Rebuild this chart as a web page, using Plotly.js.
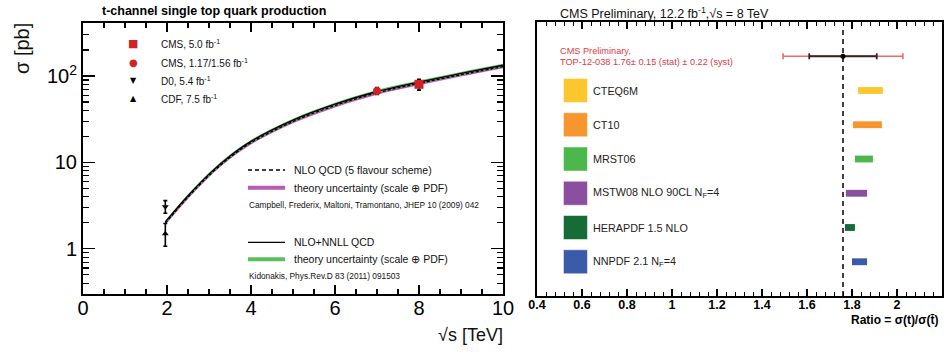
<!DOCTYPE html>
<html><head><meta charset="utf-8">
<script src="https://cdn.plot.ly/plotly-3.0.1.min.js"></script>
<style>html,body{margin:0;padding:0;background:#fff}#c{width:950px;height:353px}</style>
</head><body><div id="c"></div>
<script>
// ---- Left panel: theory curves (sqrt(s) in TeV, sigma in pb) ----
const sqrtS  = [1.96, 2.5, 3, 3.5, 4, 5, 6, 7, 8, 9, 10];
const nnll   = [2.05, 4.11, 7.31, 11.86, 17.5, 30.8, 47.1, 66.1, 85.0, 107.0, 133.0];
const nnllLo = [1.97, 3.95, 7.02, 11.39, 16.8, 29.6, 45.2, 63.5, 81.6, 102.7, 127.7];
const nnllHi = [2.13, 4.27, 7.60, 12.33, 18.2, 32.0, 49.0, 68.7, 88.4, 111.3, 138.3];
const nlo    = [1.98, 3.97, 7.05, 11.44, 16.9, 29.7, 45.5, 63.8, 82.0, 103.3, 128.3];
const nloLo  = [1.89, 3.78, 6.73, 10.91, 16.1, 28.3, 43.3, 60.8, 78.2, 98.4, 122.4];
const nloHi  = [2.05, 4.11, 7.31, 11.86, 17.5, 30.8, 47.1, 66.1, 85.0, 107.0, 133.0];

// ---- Left panel: measurements ----
const measNames  = ["CMS, 5.0 fb<sup>-1</sup>", "CMS, 1.17/1.56 fb<sup>-1</sup>", "D0, 5.4 fb<sup>-1</sup>", "CDF, 7.5 fb<sup>-1</sup>"];
const measX      = [8.0, 7.0, 1.96, 1.96];
const measY      = [80.1, 67.2, 3.07, 1.49];
const measErrUp  = [11.6, 6.1, 0.54, 0.47];
const measErrDn  = [11.6, 6.1, 0.49, 0.42];

// ---- Right panel: ratio sigma(t)/sigma(tbar) ----
const ratioMeas = 1.76, ratioStat = 0.15, ratioSyst = 0.22;
const pdfNames = ["CTEQ6M", "CT10", "MRST06", "MSTW08 NLO 90CL N<sub>F</sub>=4", "HERAPDF 1.5 NLO", "NNPDF 2.1 N<sub>F</sub>=4"];
const pdfLo    = [1.827, 1.804, 1.813, 1.773, 1.769, 1.800];
const pdfHi    = [1.937, 1.933, 1.893, 1.867, 1.813, 1.867];
const pdfColors = ["#fcc72c", "#f7952f", "#4cb84c", "#8a4f9f", "#176b37", "#3b5aa8"];

const FONT = "Liberation Sans, Arial, Helvetica, sans-serif";
const px = v => v / 950, py = v => 1 - v / 353;

const traces = [];
// NLO band (magenta)
traces.push({x: sqrtS, y: nloLo, mode: "lines", line: {width: 0, shape: "spline"}, hoverinfo: "skip", xaxis: "x", yaxis: "y"});
traces.push({x: sqrtS, y: nloHi, mode: "lines", line: {width: 0, shape: "spline"}, fill: "tonexty", fillcolor: "#b85cb5", hoverinfo: "skip", xaxis: "x", yaxis: "y"});
// NNLL band (green)
traces.push({x: sqrtS, y: nnllLo, mode: "lines", line: {width: 0, shape: "spline"}, hoverinfo: "skip", xaxis: "x", yaxis: "y"});
traces.push({x: sqrtS, y: nnllHi, mode: "lines", line: {width: 0, shape: "spline"}, fill: "tonexty", fillcolor: "#5cbf5c", hoverinfo: "skip", xaxis: "x", yaxis: "y"});
// central lines
traces.push({x: sqrtS, y: nlo, mode: "lines", line: {color: "#000", width: 1.3, dash: "3px,2px", shape: "spline"}, xaxis: "x", yaxis: "y"});
traces.push({x: sqrtS, y: nnll, mode: "lines", line: {color: "#000", width: 1.3, shape: "spline"}, xaxis: "x", yaxis: "y"});

const symbols = ["square", "circle", "triangle-down", "triangle-up"];
const mColors = ["#d42027", "#d42027", "#000", "#000"];
const mSizes = [9, 8, 6, 6];
for (let i = 0; i < measX.length; i++) {
  traces.push({
    x: [measX[i]], y: [measY[i]], mode: "markers",
    marker: {symbol: symbols[i], color: mColors[i], size: mSizes[i]},
    error_y: {type: "data", symmetric: false, array: [measErrUp[i]], arrayminus: [measErrDn[i]], color: "#000", thickness: 1.6, width: 2},
    xaxis: "x", yaxis: "y", name: measNames[i]
  });
}

// Right panel
const nPdf = pdfNames.length;
const rowY = pdfNames.map((_, i) => nPdf - i);
traces.push({
  type: "bar", orientation: "h", y: rowY, base: pdfLo, x: pdfHi.map((h, i) => h - pdfLo[i]),
  width: 0.2, marker: {color: pdfColors, line: {width: 0}}, xaxis: "x2", yaxis: "y2"
});
// legend squares
traces.push({
  x: rowY.map(() => 0.571), y: rowY, mode: "markers",
  marker: {symbol: "square", size: 24, color: pdfColors, line: {color: "rgba(255,255,255,0.5)", width: 1}},
  xaxis: "x2", yaxis: "y2"
});
// dashed line at measurement
traces.push({x: [ratioMeas, ratioMeas], y: [0, 7.85], mode: "lines", line: {color: "#404040", width: 2, dash: "5px,4px"}, xaxis: "x2", yaxis: "y2"});
const ratioTot = Math.sqrt(ratioStat * ratioStat + ratioSyst * ratioSyst);
traces.push({x: [ratioMeas], y: [nPdf + 1], mode: "markers", marker: {size: 1, color: "#f06a6a"},
  error_x: {type: "data", array: [ratioTot], color: "#f06a6a", thickness: 1.6, width: 3}, xaxis: "x2", yaxis: "y2"});
traces.push({x: [ratioMeas], y: [nPdf + 1], mode: "markers", marker: {size: 5, color: "#000"},
  error_x: {type: "data", array: [ratioStat], color: "#3a2020", thickness: 1.8, width: 3}, xaxis: "x2", yaxis: "y2"});

const ann = [];
const A = (text, x, y, size, opts) => ann.push(Object.assign({text, x: px(x), y: py(y), xref: "paper", yref: "paper", showarrow: false, xanchor: "left", yanchor: "middle", font: {family: FONT, size, color: "#111"}}, opts || {}));
A("t-channel single top quark production", 100, 11, 12.5, {font: {family: FONT, size: 12.5, color: "#000", weight: "bold"}});
A("σ [pb]", 22, 49, 20, {textangle: -90, xanchor: "center"});
A("√s [TeV]", 505, 335, 18, {xanchor: "right"});
// legend (top)
const legY = [43.7, 62.7, 80.7, 98.7];
const legGlyph = ["■", "●", "▼", "▲"];
const legGlyphSize = [11, 10, 8, 8];
for (let i = 0; i < measNames.length; i++) {
  A(legGlyph[i], 133, legY[i], legGlyphSize[i], {xanchor: "center", font: {family: "DejaVu Sans", size: legGlyphSize[i], color: mColors[i]}});
  A(measNames[i], 159, legY[i], 10);
}
// legend (bottom)
A("NLO QCD (5 flavour scheme)", 292, 170, 10.5);
A("theory uncertainty (scale ⊕ PDF)", 292, 187.7, 10.5);
A("Campbell, Frederix, Maltoni, Tramontano, JHEP 10 (2009) 042", 247, 205, 8.3);
A("NLO+NNLL QCD", 292, 242.3, 10.5);
A("theory uncertainty (scale ⊕ PDF)", 292, 259.3, 10.5);
A("Kidonakis, Phys.Rev.D 83 (2011) 091503", 247, 275.7, 8.3);
// right panel texts
A("CMS Preliminary, 12.2 fb<sup>-1</sup>,√s = 8 TeV", 558, 13, 12.5);
A("CMS Preliminary,", 558, 51, 9.2, {font: {family: FONT, size: 9.2, color: "#e03a44"}});
A("TOP-12-038 1.76± 0.15 (stat) ± 0.22 (syst)", 558, 62, 9.2, {font: {family: FONT, size: 9.2, color: "#e03a44"}});
A("Ratio = σ(t)/σ(t̄)", 940, 320, 12, {xanchor: "right", font: {family: FONT, size: 12, color: "#000", weight: "bold"}});
for (let i = 0; i < nPdf; i++) {
  ann.push({text: pdfNames[i], x: 0.64, y: rowY[i], xref: "x2", yref: "y2", showarrow: false, xanchor: "left", yanchor: "middle", font: {family: FONT, size: 10.8, color: "#222"}});
}

const shapes = [
  {type: "line", xref: "paper", yref: "paper", x0: px(248), x1: px(285), y0: py(170), y1: py(170), line: {color: "#000", width: 1.3, dash: "4px,3px"}},
  {type: "line", xref: "paper", yref: "paper", x0: px(248), x1: px(285), y0: py(187.7), y1: py(187.7), line: {color: "#b85cb5", width: 4}},
  {type: "line", xref: "paper", yref: "paper", x0: px(248), x1: px(285), y0: py(242.3), y1: py(242.3), line: {color: "#000", width: 1.3}},
  {type: "line", xref: "paper", yref: "paper", x0: px(248), x1: px(285), y0: py(259.3), y1: py(259.3), line: {color: "#5cbf5c", width: 4}}
];

const minorLog = [0.3,0.4,0.5,0.6,0.7,0.8,0.9,2,3,4,5,6,7,8,9,20,30,40,50,60,70,80,90,200,300,400];
const layout = {
  width: 950, height: 353, margin: {l: 0, r: 0, t: 0, b: 0},
  paper_bgcolor: "#fff", plot_bgcolor: "#fff", showlegend: false,
  font: {family: FONT, color: "#000"},
  xaxis: {domain: [px(83), px(503)], anchor: "y", range: [0, 10], tickmode: "linear", tick0: 0, dtick: 2,
    ticks: "inside", ticklen: 9, tickwidth: 1.3, tickcolor: "#000", showline: true, linewidth: 2, linecolor: "#000", mirror: "ticks",
    showgrid: false, zeroline: false, tickfont: {family: FONT, size: 20}, ticklabelstandoff: -5,
    minor: {dtick: 0.5, ticks: "inside", ticklen: 5, tickwidth: 1.2, tickcolor: "#000", showgrid: false}},
  yaxis: {domain: [py(294), py(23)], anchor: "x", type: "log", range: [Math.log10(0.3), Math.log10(410)],
    tickmode: "array", tickvals: [1, 10, 100], ticktext: ["1", "10", "10<sup>2</sup>"],
    ticks: "inside", ticklen: 12, tickwidth: 1.3, tickcolor: "#000", showline: true, linewidth: 2, linecolor: "#000", mirror: "ticks",
    showgrid: false, zeroline: false, tickfont: {family: FONT, size: 20},
    minor: {tickmode: "array", tickvals: minorLog, ticks: "inside", ticklen: 6, tickwidth: 1.2, tickcolor: "#000", showgrid: false}},
  xaxis2: {domain: [px(537), px(942)], anchor: "y2", range: [0.4, 2.2], tickmode: "linear", tick0: 0.4, dtick: 0.2,
    ticks: "inside", ticklen: 7, tickwidth: 1.2, tickcolor: "#000", showline: true, linewidth: 2, linecolor: "#000", mirror: "ticks",
    showgrid: false, zeroline: false, tickfont: {family: FONT, size: 12.5, weight: "bold"}, ticklabelstandoff: -4,
    minor: {dtick: 0.04, ticks: "inside", ticklen: 4, tickwidth: 1, tickcolor: "#000", showgrid: false}},
  yaxis2: {domain: [py(296), py(22)], anchor: "x2", range: [0, 8], showticklabels: false, ticks: "",
    showline: true, linewidth: 2, linecolor: "#000", mirror: true, showgrid: false, zeroline: false},
  annotations: ann, shapes: shapes
};
Plotly.newPlot("c", traces, layout, {staticPlot: true});
</script></body></html>
